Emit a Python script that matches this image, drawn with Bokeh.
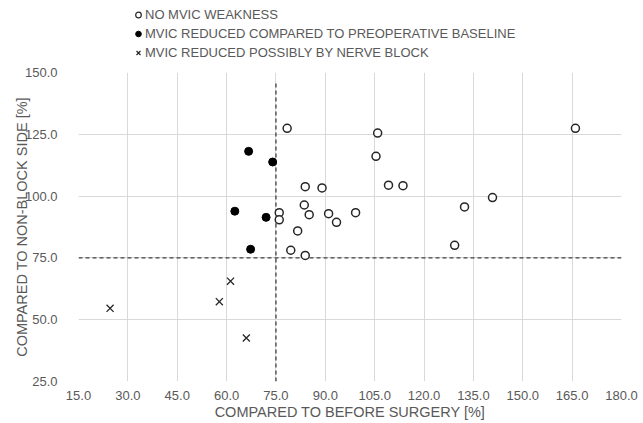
from bokeh.plotting import figure
from bokeh.layouts import column
from bokeh.models import Range1d, FixedTicker, PrintfTickFormatter, Legend, LegendItem
from bokeh.embed import file_html
from bokeh.resources import INLINE

# Data
no_weak_x = [78.4, 83.9, 89.0, 83.6, 76.0, 76.0, 85.1, 91.0, 93.4, 99.2, 81.6, 79.5, 83.9,
             105.9, 105.4, 109.2, 113.6, 132.3, 140.8, 129.3, 166.0]
no_weak_y = [127.4, 103.8, 103.3, 96.4, 93.3, 90.4, 92.5, 92.9, 89.4, 93.3, 85.9, 78.1, 76.0,
             125.5, 116.1, 104.4, 104.2, 95.6, 99.4, 80.1, 127.4]
baseline_x = [66.7, 74.0, 62.5, 72.0, 67.3]
baseline_y = [118.1, 113.8, 93.9, 91.4, 78.5]
block_x = [24.6, 57.8, 61.2, 66.0]
block_y = [54.6, 57.3, 65.6, 42.6]

ref_v_x = [75, 75]
ref_v_y = [25, 146]
ref_h_x = [15, 180]
ref_h_y = [75, 75]

x_ticks = [15, 30, 45, 60, 75, 90, 105, 120, 135, 150, 165, 180]
y_ticks = [25, 50, 75, 100, 125, 150]

labels = ["NO MVIC WEAKNESS",
          "MVIC REDUCED COMPARED TO PREOPERATIVE BASELINE",
          "MVIC REDUCED POSSIBLY BY NERVE BLOCK"]
x_title = "COMPARED TO BEFORE SURGERY [%]"
y_title = "COMPARED TO NON-BLOCK SIDE [%]"

FONT = "Liberation Sans"
GRAY = "#595959"
W = 640
NAN = float("nan")

# ---- main scatter chart ----
p = figure(width=W, height=358, output_backend="svg", toolbar_location=None,
           x_range=Range1d(15, 180), y_range=Range1d(25, 150),
           min_border_left=78, min_border_right=19, min_border_top=8, min_border_bottom=40)
p.outline_line_color = None
p.background_fill_color = "white"
p.border_fill_color = "white"

for ax in (p.xaxis[0], p.yaxis[0]):
    ax.axis_line_color = None
    ax.major_tick_line_color = None
    ax.minor_tick_line_color = None
    ax.major_label_text_font = FONT
    ax.major_label_text_color = GRAY
    ax.major_label_text_font_size = "13px"
    ax.axis_label_text_font = FONT
    ax.axis_label_text_font_style = "normal"
    ax.axis_label_text_color = GRAY
    ax.axis_label_text_font_size = "14.5px"
    ax.formatter = PrintfTickFormatter(format="%.1f")

p.xaxis[0].ticker = FixedTicker(ticks=x_ticks)
p.yaxis[0].ticker = FixedTicker(ticks=y_ticks)
p.xaxis[0].major_label_standoff = 3
p.yaxis[0].major_label_standoff = 15
p.xaxis[0].axis_label_standoff = 1
p.yaxis[0].axis_label_standoff = -8
p.xaxis[0].axis_label = x_title
p.yaxis[0].axis_label = y_title

p.xgrid.grid_line_color = "#d9d9d9"
p.ygrid.grid_line_color = "#d9d9d9"
p.xgrid.grid_line_width = 1
p.ygrid.grid_line_width = 1

p.line(ref_h_x, ref_h_y, line_color="#404040", line_width=1.3, line_dash="4 3")
p.line(ref_v_x, ref_v_y, line_color="#404040", line_width=1.3, line_dash="4 3")

p.scatter(no_weak_x, no_weak_y, marker="circle", size=8, fill_color="white",
          line_color="#262626", line_width=1.5)
p.scatter(baseline_x, baseline_y, marker="circle", size=8, fill_color="black",
          line_color="black", line_width=1)
p.scatter(block_x, block_y, marker="x", size=10, line_color="#262626", line_width=1.3)

# ---- legend strip above the chart (key renderers carry no visible data) ----
lg = figure(width=W, height=64, output_backend="svg", toolbar_location=None,
            x_axis_location=None, y_axis_location=None,
            min_border_left=0, min_border_right=0, min_border_top=0, min_border_bottom=0)
lg.outline_line_color = None
lg.xgrid.visible = False
lg.ygrid.visible = False
k1 = lg.scatter([NAN], [NAN], marker="circle", fill_color="white", line_color="#262626", line_width=1.2)
k2 = lg.scatter([NAN], [NAN], marker="circle", fill_color="black", line_color="black", line_width=1)
k3 = lg.scatter([NAN], [NAN], marker="x", line_color="#262626", line_width=1.2)

legend = Legend(items=[LegendItem(label=labels[0], renderers=[k1]),
                       LegendItem(label=labels[1], renderers=[k2]),
                       LegendItem(label=labels[2], renderers=[k3])],
                location=(53, 4), orientation="vertical",
                padding=0, margin=0, spacing=4,
                glyph_width=14, glyph_height=15, label_height=15, label_standoff=0,
                label_text_font=FONT, label_text_font_size="13px", label_text_color=GRAY,
                border_line_color=None, background_fill_alpha=0)
lg.add_layout(legend, "center")

layout = column(lg, p, spacing=0)
open("out.html", "w").write(file_html(layout, INLINE))
